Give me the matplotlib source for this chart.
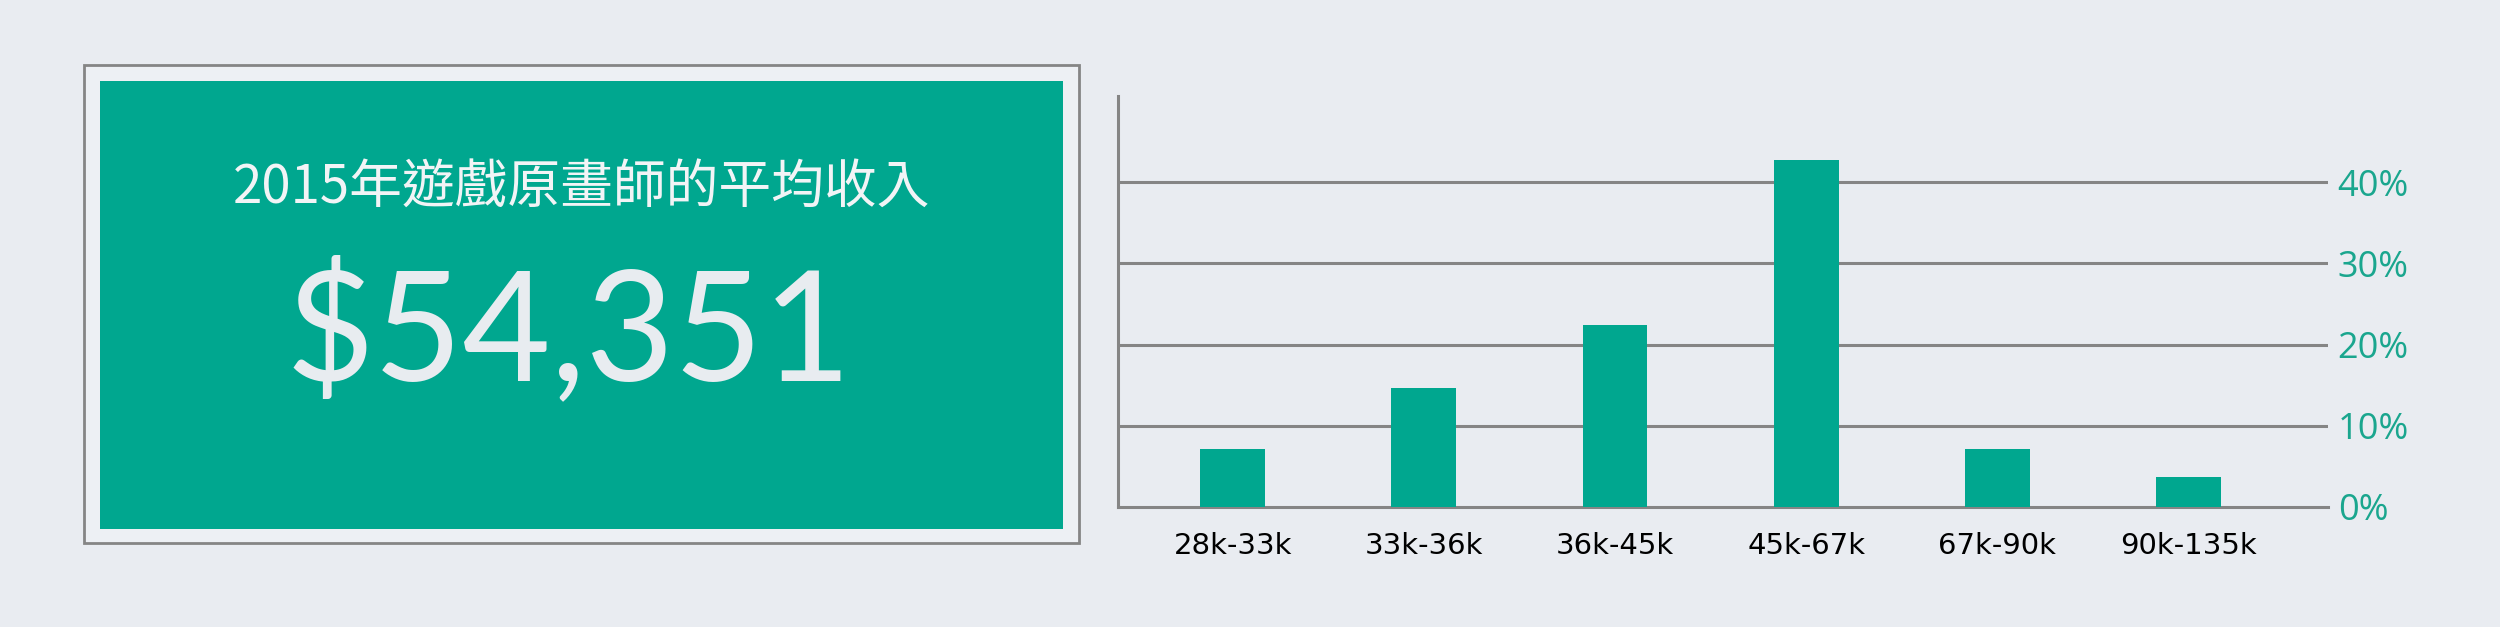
import matplotlib.pyplot as plt
from matplotlib.patches import Rectangle

# Datos del gráfico
categorias = ['28k-33k', '33k-36k', '36k-45k', '45k-67k', '67k-90k', '90k-135k']
porcentajes = [7.2, 14.7, 22.4, 42.7, 7.2, 3.7]
marcas_y = [0, 10, 20, 30, 40]
etiquetas_y = ['0%', '10%', '20%', '30%', '40%']
titulo = '2015年遊戲原畫師的平均收入'
ingreso_medio = '$54,351'

fondo = '#e9ecf1'
verde = '#00a78f'
gris = '#858585'

fig = plt.figure(figsize=(25, 6.27), dpi=100, facecolor=fondo)

# Panel izquierdo: marco y recuadro verde
fig.patches.append(Rectangle((0.0336, 0.134), 0.398, 0.762, transform=fig.transFigure,
                             facecolor='#edf0f4', edgecolor=gris, linewidth=2))
fig.patches.append(Rectangle((0.040, 0.1563), 0.3852, 0.7145, transform=fig.transFigure,
                             facecolor=verde, edgecolor='none'))

fig.text(0.2325, 0.676, titulo, ha='center', va='baseline', color='#f2f4f6',
         fontsize=38, family=['Noto Sans CJK TC', 'DejaVu Sans'], fontweight='light')
fig.text(0.2275, 0.394, ingreso_medio, ha='center', va='baseline', color='#e8ecf0',
         fontsize=110, family=['Lato', 'DejaVu Sans'], fontweight='normal')

# Panel derecho: barras
ax = fig.add_axes([0.4472, 0.1914, 0.484, 0.6555])
ax.set_facecolor(fondo)
x = range(len(categorias))
ax.bar(x, porcentajes, width=0.34, color=verde, zorder=3)
ax.set_xlim(-0.60, 5.73)
ax.set_ylim(0, 50.6)

for v in marcas_y[1:]:
    ax.axhline(v, color=gris, linewidth=2.2, zorder=1)

for lado in ['top', 'right']:
    ax.spines[lado].set_visible(False)
for lado in ['left', 'bottom']:
    ax.spines[lado].set_color(gris)
    ax.spines[lado].set_linewidth(2.2)

ax.yaxis.tick_right()
ax.set_yticks(marcas_y)
ax.set_yticklabels(etiquetas_y, color='#1aa68e', fontsize=26, family=['Open Sans', 'DejaVu Sans'])
ax.tick_params(axis='y', length=0, pad=7)

ax.set_xticks(list(x))
ax.set_xticklabels(categorias, fontsize=21, family=['DejaVu Sans'])
ax.tick_params(axis='x', length=0, pad=18)

plt.savefig('out.png', dpi=100, facecolor=fondo)
